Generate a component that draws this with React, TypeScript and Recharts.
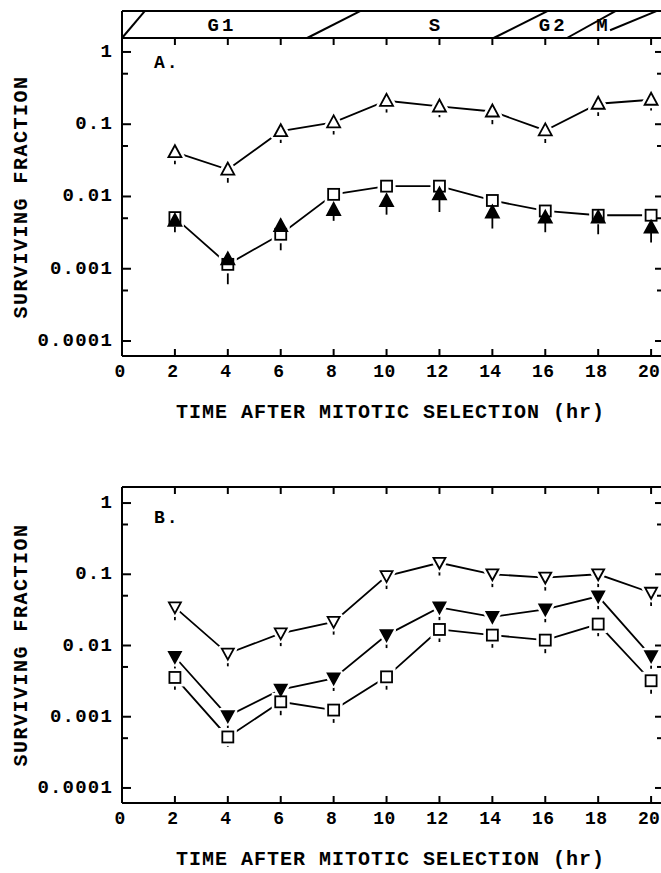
import React from 'react';
import { LineChart, Line, XAxis, YAxis, ErrorBar, ReferenceLine, ReferenceDot } from 'recharts';

const FONT = '"Liberation Mono", "DejaVu Sans Mono", monospace';

// ---------- shared axis data ----------
const hours = [2, 4, 6, 8, 10, 12, 14, 16, 18, 20];
const xTicks = [0, 2, 4, 6, 8, 10, 12, 14, 16, 18, 20];
const yMajorTicks = [0.0001, 0.001, 0.01, 0.1, 1];
const yMajorLabels = ['0.0001', '0.001', '0.01', '0.1', '1'];
const yAllTicks = [0.0001, 0.0005, 0.001, 0.005, 0.01, 0.05, 0.1, 0.5, 1];
const xTitle = 'TIME AFTER MITOTIC SELECTION (hr)';
const yTitle = 'SURVIVING FRACTION';
const X_MAX = 20.45;

// ---------- panel A ----------
const aOpenTri = [0.041, 0.0236, 0.08, 0.106, 0.211, 0.176, 0.15, 0.082, 0.192, 0.218];
const aOpenTriLow = [0.028, 0.0155, 0.055, 0.072, 0.145, 0.125, 0.1, 0.055, 0.13, 0.155];
const aSquare = [0.0051, 0.00115, 0.003, 0.0107, 0.0139, 0.0139, 0.0088, 0.0063, 0.0055, 0.0055];
const aSquareLow = [0.0041, 0.0009, 0.0024, 0.0085, 0.011, 0.011, 0.007, 0.005, 0.0044, 0.0044];
const aSquareHigh = [0.0066, 0.0015, 0.0038, 0.0136, 0.0176, 0.018, 0.0113, 0.008, 0.007, 0.0068];
const aFilledTri = [0.0046, 0.00135, 0.0039, 0.0065, 0.0086, 0.0107, 0.006, 0.0051, 0.0051, 0.0037];
const aFilledTriLow = [0.0032, 0.00061, 0.0018, 0.0046, 0.0056, 0.0061, 0.0036, 0.0032, 0.003, 0.0023];
const yDomainA: [number, number] = [6.2e-5, 1.56];

// cell-cycle banner (panel A)
const bannerTop = 3.68;
const phaseLabels = ['G1', 'S', 'G2', 'M'];
const phaseLabelHours = [3.78, 11.87, 16.3, 18.2];
const phaseLabelLevel = 2.29;
const phaseDividers = [
  { x1: 0, y1: 1.56, x2: 0.86, y2: 3.68 },
  { x1: 7.0, y1: 1.56, x2: 9.0, y2: 3.68 },
  { x1: 14.05, y1: 1.56, x2: 16.08, y2: 3.68 },
  { x1: 16.82, y1: 1.56, x2: 18.65, y2: 3.68 },
  { x1: 18.45, y1: 2.0, x2: 20.2, y2: 3.68 },
];

// ---------- panel B ----------
const bOpenTri = [0.0343, 0.0077, 0.0148, 0.0215, 0.094, 0.145, 0.1, 0.09, 0.1, 0.055];
const bOpenTriLow = [0.0226, 0.0051, 0.0098, 0.0142, 0.062, 0.096, 0.066, 0.059, 0.066, 0.036];
const bFilledTri = [0.0069, 0.00102, 0.0024, 0.00345, 0.014, 0.0343, 0.0253, 0.0321, 0.049, 0.0071];
const bFilledTriLow = [0.0046, 0.00067, 0.0016, 0.0023, 0.0092, 0.0226, 0.0167, 0.0212, 0.0323, 0.0047];
const bSquare = [0.00356, 0.00052, 0.00162, 0.00124, 0.00363, 0.0168, 0.014, 0.0119, 0.02, 0.0032];
const bSquareLow = [0.0024, 0.00038, 0.00105, 0.00082, 0.0024, 0.0112, 0.0093, 0.0078, 0.0135, 0.0021];
const bSquareHigh = [0.0046, 0.00066, 0.0021, 0.0016, 0.0047, 0.0215, 0.018, 0.0152, 0.026, 0.0041];
const yDomainB: [number, number] = [6.15e-5, 1.68];

const tableA = hours.map((h, i) => ({
  hr: h,
  ot: aOpenTri[i],
  otErr: [aOpenTri[i] - aOpenTriLow[i], 0],
  sq: aSquare[i],
  sqErr: [aSquare[i] - aSquareLow[i], aSquareHigh[i] - aSquare[i]],
  ft: aFilledTri[i],
  ftErr: [aFilledTri[i] - aFilledTriLow[i], 0],
}));

const tableB = hours.map((h, i) => ({
  hr: h,
  ot: bOpenTri[i],
  otErr: [bOpenTri[i] - bOpenTriLow[i], 0],
  ft: bFilledTri[i],
  ftErr: [bFilledTri[i] - bFilledTriLow[i], 0],
  sq: bSquare[i],
  sqErr: [bSquare[i] - bSquareLow[i], bSquareHigh[i] - bSquare[i]],
}));

// ---------- text helpers ----------
const textStyle = (size: number, spacing: number): React.CSSProperties => ({
  fontFamily: FONT,
  fontWeight: 700,
  fontSize: size,
  letterSpacing: spacing,
  fill: '#000',
});

const LeftTick = (props: any) => {
  const { x, y, payload } = props;
  const idx = yMajorTicks.indexOf(payload.value);
  const major = idx >= 0;
  return (
    <g>
      <line x1={x} x2={x + (major ? 9 : 6)} y1={y} y2={y} stroke="#000" strokeWidth={2} />
      {major && (
        <text x={x - 9} y={y} textAnchor="end" dominantBaseline="central" style={textStyle(19, 1.2)}>
          {yMajorLabels[idx]}
        </text>
      )}
    </g>
  );
};

const RightTick = (props: any) => {
  const { x, y, payload } = props;
  const major = yMajorTicks.indexOf(payload.value) >= 0;
  return <line x1={x} x2={x - (major ? 8 : 6)} y1={y} y2={y} stroke="#000" strokeWidth={2} />;
};

const BottomTick = (props: any) => {
  const { x, y, payload } = props;
  return (
    <g>
      <line x1={x} x2={x} y1={y} y2={y - 7} stroke="#000" strokeWidth={2} />
      <text x={x - 2} y={y + 16} textAnchor="middle" dominantBaseline="central" style={textStyle(18, 0.4)}>
        {payload.value}
      </text>
    </g>
  );
};

const TopTick = (props: any) => {
  const { x, y } = props;
  return <line x1={x} x2={x} y1={y} y2={y + 7} stroke="#000" strokeWidth={2} />;
};

const renderXTitle = (props: any) => {
  const vb = props.viewBox;
  return (
    <text x={vb.x + vb.width / 2 - 2} y={vb.y + 56} textAnchor="middle" dominantBaseline="central" style={textStyle(20, 1)}>
      {xTitle}
    </text>
  );
};

const renderYTitle = (props: any) => {
  const vb = props.viewBox;
  const cx = vb.x + vb.width - 101;
  const cy = vb.y + vb.height / 2;
  return (
    <text
      x={cx}
      y={cy}
      transform={`rotate(-90 ${cx} ${cy})`}
      textAnchor="middle"
      dominantBaseline="central"
      style={textStyle(20, 1.5)}
    >
      {yTitle}
    </text>
  );
};

const centerText = (t: string, size: number, spacing: number) => (props: any) => {
  const vb = props.viewBox;
  return (
    <text x={vb.x + vb.width / 2} y={vb.y + vb.height / 2} textAnchor="middle" dominantBaseline="central" style={textStyle(size, spacing)}>
      {t}
    </text>
  );
};

const startText = (t: string, size: number, spacing: number) => (props: any) => {
  const vb = props.viewBox;
  return (
    <text x={vb.x} y={vb.y + vb.height / 2} textAnchor="start" dominantBaseline="central" style={textStyle(size, spacing)}>
      {t}
    </text>
  );
};

// ---------- marker shapes ----------
const triUpPts = (cx: number, cy: number) => `${cx},${cy - 7} ${cx - 6.5},${cy + 5} ${cx + 6.5},${cy + 5}`;
const triDownPts = (cx: number, cy: number) => `${cx},${cy + 6} ${cx - 6},${cy - 5} ${cx + 6},${cy - 5}`;

const haloDot = (shape: 'up' | 'down' | 'sq') => (p: any) => {
  const { cx, cy, index } = p;
  if (cx == null || cy == null) return <g key={index} />;
  if (shape === 'sq')
    return <rect key={index} x={cx - 5.5} y={cy - 5.5} width={11} height={11} fill="#fff" stroke="#fff" strokeWidth={7} />;
  const pts = shape === 'up' ? triUpPts(cx, cy) : triDownPts(cx, cy);
  return <polygon key={index} points={pts} fill="#fff" stroke="#fff" strokeWidth={7} strokeLinejoin="round" />;
};

const markerDot = (shape: 'up' | 'down' | 'sq', filled: boolean) => (p: any) => {
  const { cx, cy, index } = p;
  if (cx == null || cy == null) return <g key={index} />;
  if (shape === 'sq')
    return (
      <rect key={index} x={cx - 5.5} y={cy - 5.5} width={11} height={11} fill={filled ? '#000' : '#fff'} stroke="#000" strokeWidth={1.8} />
    );
  const pts = shape === 'up' ? triUpPts(cx, cy) : triDownPts(cx, cy);
  return <polygon key={index} points={pts} fill={filled ? '#000' : '#fff'} stroke="#000" strokeWidth={1.8} strokeLinejoin="miter" />;
};

const axisLine = { stroke: '#000', strokeWidth: 2 };

function axes(domain: [number, number]) {
  return [
    <XAxis
      key="xb"
      type="number"
      dataKey="hr"
      domain={[0, X_MAX]}
      allowDataOverflow
      ticks={xTicks}
      interval={0}
      height={1}
      tickSize={0}
      tickMargin={0}
      tickLine={false}
      tick={<BottomTick />}
      axisLine={axisLine}
      label={{ content: renderXTitle }}
    />,
    <XAxis
      key="xt"
      xAxisId="top"
      orientation="top"
      type="number"
      dataKey="hr"
      domain={[0, X_MAX]}
      allowDataOverflow
      ticks={xTicks}
      interval={0}
      height={1}
      tickSize={0}
      tickMargin={0}
      tickLine={false}
      tick={<TopTick />}
      axisLine={axisLine}
    />,
    <YAxis
      key="yl"
      type="number"
      scale="log"
      domain={domain}
      allowDataOverflow
      ticks={yAllTicks}
      interval={0}
      width={1}
      tickSize={0}
      tickMargin={0}
      tickLine={false}
      tick={<LeftTick />}
      axisLine={axisLine}
      label={{ content: renderYTitle }}
    />,
    <YAxis
      key="yr"
      yAxisId="r"
      orientation="right"
      type="number"
      scale="log"
      domain={domain}
      allowDataOverflow
      ticks={yAllTicks}
      interval={0}
      width={1}
      tickSize={0}
      tickMargin={0}
      tickLine={false}
      tick={<RightTick />}
      axisLine={axisLine}
    />,
  ];
}

const errProps = { width: 0, stroke: '#000', strokeWidth: 1.8, direction: 'y' as const };

function PanelA() {
  return (
    <LineChart width={661} height={440} data={tableA} margin={{ top: 37, right: -3, bottom: 83, left: 121 }}>
      {axes(yDomainA)}
      <ReferenceLine
        segment={[{ x: 0, y: yDomainA[1] }, { x: 0, y: bannerTop }]}
        stroke="#000"
        strokeWidth={2}
        ifOverflow="visible"
      />
      <ReferenceLine
        segment={[{ x: 0, y: bannerTop }, { x: X_MAX, y: bannerTop }]}
        stroke="#000"
        strokeWidth={2}
        ifOverflow="visible"
      />
      {phaseDividers.map((d, i) => (
        <ReferenceLine
          key={`pd${i}`}
          segment={[{ x: d.x1, y: d.y1 }, { x: d.x2, y: d.y2 }]}
          stroke="#000"
          strokeWidth={2}
          ifOverflow="visible"
        />
      ))}
      {phaseLabels.map((t, i) => (
        <ReferenceDot
          key={`pl${i}`}
          x={phaseLabelHours[i]}
          y={phaseLabelLevel}
          r={1}
          fill="none"
          stroke="none"
          ifOverflow="visible"
          label={{ content: centerText(t, 19, 3) }}
        />
      ))}
      <ReferenceDot x={1.25} y={0.703} r={1} fill="none" stroke="none" ifOverflow="visible" label={{ content: startText('A.', 18, 2) }} />

      <Line dataKey="sq" stroke="#000" strokeWidth={1.8} dot={haloDot('sq')} activeDot={false} isAnimationActive={false} />
      <Line dataKey="ot" stroke="#000" strokeWidth={1.8} dot={haloDot('up')} activeDot={false} isAnimationActive={false} />

      <Line dataKey="sq" stroke="none" dot={markerDot('sq', false)} activeDot={false} isAnimationActive={false}>
        <ErrorBar dataKey="sqErr" {...errProps} />
      </Line>
      <Line dataKey="ft" stroke="none" dot={markerDot('up', true)} activeDot={false} isAnimationActive={false}>
        <ErrorBar dataKey="ftErr" {...errProps} />
      </Line>
      <Line dataKey="ot" stroke="none" dot={markerDot('up', false)} activeDot={false} isAnimationActive={false}>
        <ErrorBar dataKey="otErr" {...errProps} />
      </Line>
    </LineChart>
  );
}

function PanelB() {
  return (
    <LineChart width={661} height={433} data={tableB} margin={{ top: 46, right: -3, bottom: 69, left: 121 }}>
      {axes(yDomainB)}
      <ReferenceDot x={1.25} y={0.617} r={1} fill="none" stroke="none" ifOverflow="visible" label={{ content: startText('B.', 18, 2) }} />

      <Line dataKey="sq" stroke="#000" strokeWidth={1.8} dot={haloDot('sq')} activeDot={false} isAnimationActive={false} />
      <Line dataKey="ft" stroke="#000" strokeWidth={1.8} dot={haloDot('down')} activeDot={false} isAnimationActive={false} />
      <Line dataKey="ot" stroke="#000" strokeWidth={1.8} dot={haloDot('down')} activeDot={false} isAnimationActive={false} />

      <Line dataKey="sq" stroke="none" dot={markerDot('sq', false)} activeDot={false} isAnimationActive={false}>
        <ErrorBar dataKey="sqErr" {...errProps} />
      </Line>
      <Line dataKey="ft" stroke="none" dot={markerDot('down', true)} activeDot={false} isAnimationActive={false}>
        <ErrorBar dataKey="ftErr" {...errProps} />
      </Line>
      <Line dataKey="ot" stroke="none" dot={markerDot('down', false)} activeDot={false} isAnimationActive={false}>
        <ErrorBar dataKey="otErr" {...errProps} />
      </Line>
    </LineChart>
  );
}

export default function App() {
  return (
    <div style={{ position: 'fixed', left: 0, top: 0, width: 661, height: 873, overflow: 'hidden', background: '#fff' }}>
      <div style={{ position: 'absolute', left: 0, top: 0 }}>
        <PanelA />
      </div>
      <div style={{ position: 'absolute', left: 0, top: 440 }}>
        <PanelB />
      </div>
    </div>
  );
}
